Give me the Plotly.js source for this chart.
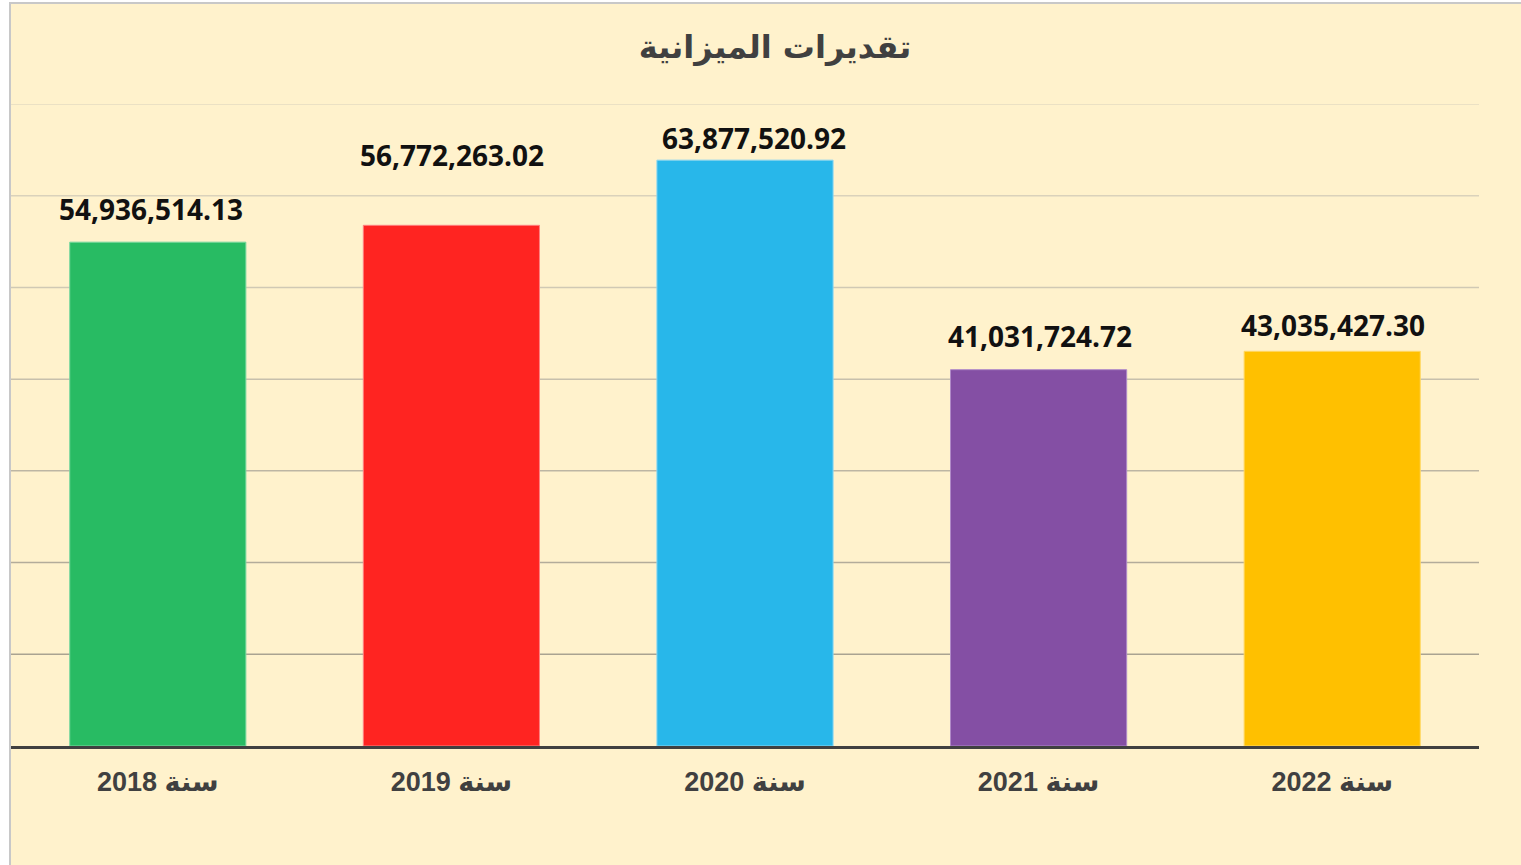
<!DOCTYPE html>
<html>
<head>
<meta charset="utf-8">
<script src="https://cdn.plot.ly/plotly-3.0.1.min.js"></script>
<style>
  html, body { margin: 0; padding: 0; background: #ffffff; overflow: hidden; }
  #wrap { position: absolute; left: 9px; top: 2px; width: 1510px; height: 861px;
          border-left: 2px solid #c8c8c8; border-top: 2px solid #c8c8c8; background: #FFF2CC; }
  #chart { width: 1510px; height: 861px; }
</style>
</head>
<body>
<div id="wrap"><div id="chart"></div></div>
<script>
const categories = ["سنة 2018", "سنة 2019", "سنة 2020", "سنة 2021", "سنة 2022"];
const values = [54936514.13, 56772263.02, 63877520.92, 41031724.72, 43035427.30];
const labels = ["54,936,514.13", "56,772,263.02", "63,877,520.92", "41,031,724.72", "43,035,427.30"];
const barColors = ["#28BB63", "#FF2421", "#28B7EA", "#844FA4", "#FFC000"];
const barEdges = ["#7ad8a0", "#ff8080", "#8ad6f2", "#b08ac8", "#ffd866"];
// gridline values and their shades (the reference's gridlines darken toward the bottom)
const gridValues = [10000000, 20000000, 30000000, 40000000, 50000000, 60000000, 70000000];
const gridShades = ["#aaa391", "#b3ac9a", "#bdb6a3", "#c7c0ac", "#d0c9b4", "#dad2bb", "#e4dbc2"];
// label placement tweaks (pixels), as in the reference
const labelDy = [33, 70, 22, 34, 26];
const labelDx = [-7, 1, 9, 1, 1];

const trace = {
  type: "bar",
  x: categories,
  y: values,
  width: 0.6,
  marker: { color: barColors, line: { color: barEdges, width: 1 } },
  hoverinfo: "skip"
};

const annotations = categories.map((c, i) => ({
  x: c, y: values[i], xref: "x", yref: "y",
  text: labels[i], showarrow: false,
  yanchor: "middle", xanchor: "center",
  yshift: labelDy[i], xshift: labelDx[i],
  font: { family: "'Open Sans', Lato, sans-serif", size: 28, color: "#111111", weight: 700 }
}));

const shapes = gridValues.map((v, i) => ({
  type: "line", layer: "below",
  xref: "paper", x0: 0, x1: 1,
  yref: "y", y0: v, y1: v,
  line: { color: gridShades[i], width: 1.5 }
}));

const layout = {
  width: 1510, height: 861,
  margin: { l: 0, r: 42, t: 100, b: 119 },
  paper_bgcolor: "rgba(0,0,0,0)",
  plot_bgcolor: "rgba(0,0,0,0)",
  showlegend: false,
  bargap: 0.4,
  title: {
    text: "<b>تقديرات الميزانية</b>",
    x: 0.506, xanchor: "center", xref: "container",
    y: 1 - 43 / 861, yanchor: "middle", yref: "container",
    font: { family: "'DejaVu Sans', 'Liberation Sans', Arial, sans-serif", size: 32, color: "#404040" }
  },
  xaxis: {
    type: "category",
    showline: true, linecolor: "#404040", linewidth: 3,
    ticks: "", showgrid: false,
    ticklabelstandoff: 10,
    tickfont: { family: "'Liberation Sans', 'DejaVu Sans', Arial, sans-serif", size: 27, color: "#404040", weight: "bold" }
  },
  yaxis: {
    range: [0, 70000000],
    showgrid: false,
    zeroline: false, showticklabels: false, ticks: "", showline: false
  },
  shapes: shapes,
  annotations: annotations
};

Plotly.newPlot("chart", [trace], layout, { displayModeBar: false, staticPlot: true });
</script>
</body>
</html>
